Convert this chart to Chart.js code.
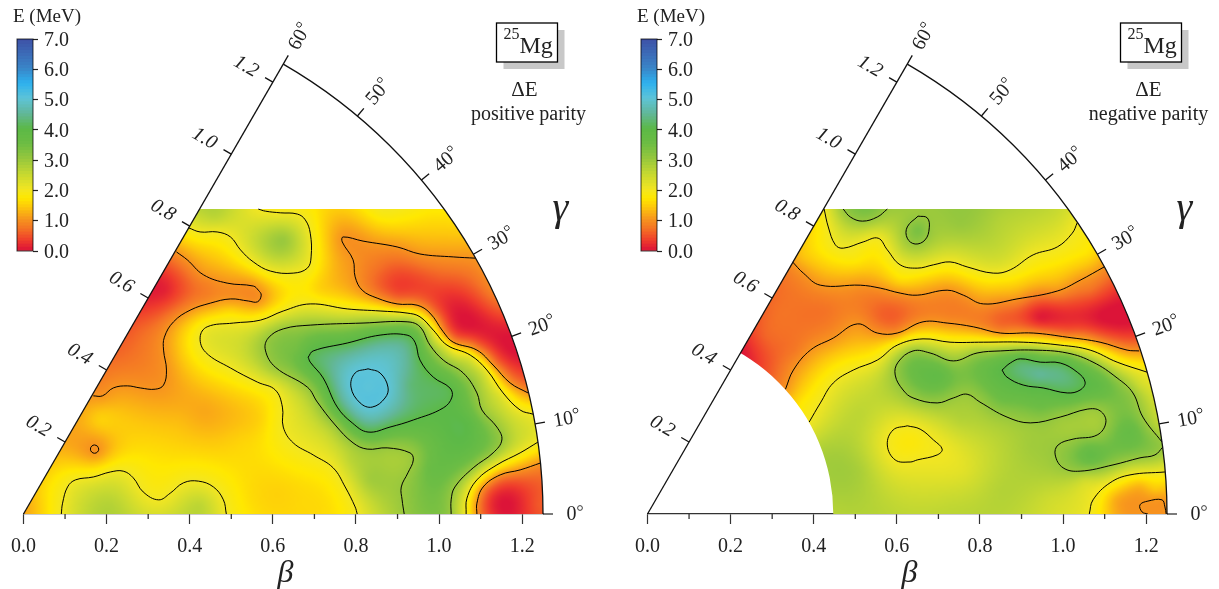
<!DOCTYPE html>
<html><head><meta charset="utf-8">
<script src="https://cdn.jsdelivr.net/npm/chart.js@4/dist/chart.umd.min.js"></script>
<style>
html,body{margin:0;padding:0;background:#fff;width:1219px;height:589px;overflow:hidden}
canvas{position:absolute}
</style></head><body>
<canvas id="posMain" width="610" height="589" style="left:0;top:0"></canvas>
<canvas id="negMain" width="595" height="589" style="left:624px;top:0"></canvas>
<canvas id="posBar" width="80" height="240" style="left:0;top:25px"></canvas>
<canvas id="negBar" width="80" height="240" style="left:624px;top:25px"></canvas>
<script>
// ---------- axes ----------
const betaTicks = [0,0.2,0.4,0.6,0.8,1.0,1.2];
const betaMinorTicks = [0.1,0.3,0.5,0.7,0.9,1.1];
const wallTicks = [0.2,0.4,0.6,0.8,1.0,1.2];
const gammaTicks = [0,10,20,30,40,50,60];
const energyTicks = [0,1,2,3,4,5,6,7];
const betaMax = 1.25, fieldTop = 0.733, holeNeg = 0.447;
// ---------- colour scale ----------
const colorStopValues = [0,0.3,0.7,1.0,1.4,1.7,2.0,2.5,3.0,3.5,4.0,4.5,5.0,5.5,6.0,7.0];
const colorStopHex = ['#dc1438','#ef3b2c','#f47325','#f7941e','#fdc70c','#ffe800','#f2e622','#c6d931','#98c83d','#6dbd44','#5cb947','#62b79a','#5ec4d8','#2eb2ef','#3a85c8','#3f4fa5'];
// ---------- positive parity contours (beta x, beta y) ----------
const posL2a=[[.565,.733],[.582,.728],[.618,.724],[.659,.721],[.678,.707],[.690,.675],[.692,.618],[.683,.591],[.649,.579],[.594,.584],[.553,.606],[.522,.635],[.498,.666],[.466,.678],[.425,.678],[.397,.688]];
const posL1a=[[.368,.630],[.394,.611],[.433,.575],[.490,.555],[.553,.548],[.565,.538],[.572,.526],[.563,.510],[.541,.512],[.498,.517],[.450,.507],[.401,.490],[.361,.462],[.339,.425],[.337,.394],[.344,.346],[.337,.310],[.317,.300],[.281,.303],[.250,.308],[.216,.303],[.190,.284],[.168,.284]];
const posL1c=[[.178,.163],[.171,.166],[.164,.163],[.161,.156],[.164,.149],[.171,.146],[.178,.149],[.181,.156],[.178,.163]];
const posL2b=[[.091,0],[.094,.026],[.106,.065],[.125,.082],[.168,.089],[.209,.101],[.240,.103],[.264,.087],[.288,.053],[.325,.034],[.353,.050],[.385,.075],[.421,.079],[.457,.065],[.481,.034],[.488,0]];
const posL2c=[[1.226,.240],[1.195,.250],[1.154,.291],[1.115,.346],[1.075,.382],[1.019,.406],[.986,.442],[.954,.474],[.923,.483],[.858,.488],[.779,.493],[.690,.505],[.625,.488],[.570,.466],[.505,.459],[.442,.450],[.425,.425],[.438,.389],[.498,.351],[.563,.317],[.606,.298],[.623,.257],[.625,.209],[.649,.171],[.697,.142],[.745,.111],[.774,.065],[.798,.017],[.803,0]];
const posL1b=[[1.087,.615],[1.034,.618],[.954,.625],[.899,.642],[.817,.656],[.769,.666],[.767,.654],[.793,.611],[.798,.570],[.815,.538],[.851,.519],[.899,.505],[.947,.502],[.978,.483],[1.010,.438],[1.034,.413],[1.091,.394],[1.130,.358],[1.171,.315],[1.214,.291]];
const posL3=[[1.029,0],[1.029,.034],[1.038,.065],[1.082,.111],[1.130,.147],[1.151,.178],[1.139,.209],[1.103,.250],[1.091,.291],[1.058,.339],[1.010,.370],[.978,.406],[.954,.450],[.923,.462],[.817,.459],[.690,.454],[.625,.445],[.589,.423],[.582,.394],[.606,.353],[.683,.305],[.707,.269],[.750,.214],[.793,.171],[.827,.156],[.875,.159],[.930,.147],[.938,.130],[.925,.099],[.909,.065],[.911,.034],[.916,0]];
const posL2d=[[1.238,.173],[1.195,.147],[1.139,.118],[1.091,.082],[1.067,.038],[1.065,0]];
const posL1d=[[1.245,.123],[1.195,.106],[1.147,.094],[1.106,.065],[1.091,.026],[1.091,0]];
const posL4=[[.685,.377],[.697,.392],[.779,.411],[.858,.430],[.923,.430],[.942,.413],[.954,.370],[.986,.329],[1.026,.303],[1.031,.281],[1.010,.255],[.938,.226],[.882,.209],[.829,.197],[.791,.219],[.755,.257],[.721,.327],[.690,.365],[.685,.377]];
const posL5=[[.829,.349],[.858,.339],[.877,.305],[.870,.279],[.839,.257],[.810,.267],[.788,.305],[.798,.339],[.829,.349]];
const posContours=[[1,posL1a],[1,posL1b],[1,posL1c],[1,posL1d],[2,posL2a],[2,posL2b],[2,posL2c],[2,posL2d],[3,posL3],[4,posL4],[5,posL5]];
// spot readings between the contours: beta x, beta y, energy
const posSpots=[[.625,.659,3.0],[.558,.659,2.5],[.462,.712,2.6],[.661,.635,2.5],[.341,.538,.1],[.281,.442,.6],[.245,.370,.7],[.438,.550,.8],[.738,.712,1.4],[.978,.726,1.7],[.858,.726,1.9],[1.055,.471,0],[.906,.538,.35],[.858,.587,.65],[1.147,.490,.5],[1.195,.346,.3],[1.063,.671,1.4],[.171,.156,.95],[.438,.245,1.15],[.185,.226,1.5],[.089,.106,1.6],[.024,.01,1.3],[.209,.022,2.7],[.425,.022,2.6],[.329,.178,1.5],[.618,.058,1.5],[.666,.022,1.55],[.546,.034,1.6],[.522,.178,1.5],[.377,.346,1.25],[.522,.406,2.4],[.666,.394,3.5],[.829,.303,5.0],[.930,.310,4.3],[.834,.082,2.9],[.786,.125,2.6],[.978,.106,3.6],[1.002,.178,3.8],[1.075,.226,3.85],[.978,.034,3.4],[1.171,.022,0],[1.238,.022,.5],[1.046,.01,2.5],[1.183,.202,2.5],[1.135,.538,.9],[1.002,.562,.5],[.714,.538,1.5],[.642,.538,1.7],[.498,.490,1.5],[.257,.178,1.5],[.041,.058,1.5],[.377,.226,1.3],[.570,.226,1.5]];
// ---------- negative parity contours ----------
const negL3a=[[.471,.733],[.488,.714],[.517,.704],[.553,.714],[.577,.733]];
const negL3b=[[.651,.716],[.673,.712],[.678,.688],[.668,.659],[.644,.649],[.625,.663],[.625,.690],[.651,.716]];
const negL2a=[[.425,.733],[.435,.690],[.452,.647],[.471,.639],[.519,.654],[.555,.663],[.577,.635],[.608,.599],[.649,.591],[.688,.599],[.728,.606],[.769,.594],[.832,.579],[.873,.587],[.928,.623],[.986,.642],[1.022,.675],[1.034,.700]];
const negL1a=[[.349,.606],[.375,.579],[.416,.550],[.512,.550],[.560,.543],[.608,.531],[.649,.526],[.721,.538],[.760,.526],[.808,.505],[.889,.517],[.986,.536],[1.041,.562],[1.099,.594]];
const negL1b=[[.332,.300],[.351,.346],[.392,.394],[.447,.423],[.505,.457],[.553,.435],[.601,.435],[.663,.462],[.721,.459],[.784,.450],[.849,.435],[.928,.435],[1.010,.425],[1.089,.413],[1.154,.394],[1.183,.392]];
const negL2b=[[.389,.221],[.416,.267],[.447,.315],[.495,.346],[.553,.370],[.601,.406],[.663,.421],[.728,.413],[.808,.413],[.904,.413],[.993,.406],[1.065,.394],[1.130,.365],[1.202,.341]];
const negL3c=[[1.238,.173],[1.192,.233],[1.168,.291],[1.130,.327],[1.072,.365],[1.010,.387],[.928,.394],[.849,.392],[.793,.387],[.736,.368],[.680,.387],[.639,.392],[.603,.365],[.596,.334],[.615,.298],[.639,.279],[.697,.267],[.736,.279],[.769,.288],[.800,.269],[.865,.233],[.921,.219],[.993,.233],[1.058,.252],[1.089,.248],[1.103,.221],[1.082,.190],[1.024,.180],[.988,.166],[.981,.142],[1.000,.111],[1.041,.103],[1.120,.118],[1.185,.135],[1.221,.142],[1.240,.161]];
const negL4=[[.853,.346],[.873,.363],[.897,.373],[.945,.365],[.993,.363],[1.034,.341],[1.053,.317],[1.041,.298],[1.010,.291],[.952,.303],[.904,.310],[.865,.329],[.853,.346]];
const negL2c=[[.625,.212],[.591,.202],[.577,.166],[.596,.130],[.632,.125],[.649,.130],[.697,.142],[.709,.156],[.688,.178],[.656,.204],[.625,.212]];
const negL2d=[[1.063,0],[1.072,.034],[1.113,.075],[1.161,.094],[1.245,.101]];
const negL1c=[[1.248,0],[1.245,.017],[1.238,.034],[1.204,.031],[1.185,.022],[1.190,.005],[1.204,0]];
const negContours=[[1,negL1a],[1,negL1b],[1,negL1c],[2,negL2a],[2,negL2b],[2,negL2c],[2,negL2d],[3,negL3a],[3,negL3b],[3,negL3c],[4,negL4]];
const negSpots=[[.536,.726,3.3],[.651,.683,3.4],[.849,.707,2.7],[.752,.695,3.0],[.993,.719,2.4],[.397,.647,1.6],[.368,.615,1.3],[.500,.615,1.8],[.608,.635,2.5],[.849,.606,2.3],[.320,.490,.7],[.284,.430,.6],[.236,.382,.05],[.356,.394,.75],[.560,.471,.6],[.945,.471,.05],[1.089,.471,0],[1.161,.430,.3],[1.065,.538,.7],[.849,.478,.6],[.716,.495,.8],[.428,.490,.7],[.849,.562,1.7],[.608,.562,1.6],[1.065,.623,1.6],[.452,.375,1.5],[.368,.262,1.7],[.404,.154,2.7],[.452,.010,2.7],[.512,.106,2.8],[.512,.238,2.6],[.637,.166,1.8],[.764,.106,2.2],[.728,.034,2.5],[.849,.058,2.7],[.969,.034,2.4],[1.053,.082,2.4],[1.125,.034,1.2],[1.185,.070,1.3],[1.221,.058,1.4],[.704,.334,3.8],[.945,.334,4.5],[1.161,.202,3.7],[1.053,.221,2.85],[.921,.166,2.9],[1.065,.142,3.8],[1.214,.118,2.5],[1.221,.214,2.7],[1.185,.310,2.4],[.849,.274,3.5],[.752,.226,2.7],[.945,.255,3.5],[.849,.370,3.7],[1.089,.310,3.8]];

// ---------- helpers ----------
const stopRGB = colorStopHex.map(h=>[1,3,5].map(i=>parseInt(h.substr(i,2),16)));
function colorAt(v){
  v=Math.max(0,Math.min(7,v));
  let i=0; while(i<colorStopValues.length-2 && v>colorStopValues[i+1]) i++;
  const t=(v-colorStopValues[i])/(colorStopValues[i+1]-colorStopValues[i]);
  return stopRGB[i].map((c,k)=>c+(stopRGB[i+1][k]-c)*t);
}
function fieldNodes(contours,spots){
  const n=[];
  contours.forEach(([lev,pts])=>pts.forEach(p=>n.push({x:p[0],y:p[1],v:lev})));
  spots.forEach(s=>n.push({x:s[0],y:s[1],v:s[2]}));
  return n;
}
function kernel(r2){return r2>0? r2*Math.log(r2):0;}
function solveSurface(nodes){
  const n=nodes.length, m=n+3, A=[];
  for(let i=0;i<m;i++){A.push(new Float64Array(m+1));}
  for(let i=0;i<n;i++){
    for(let j=0;j<n;j++){
      const dx=nodes[i].x-nodes[j].x, dy=nodes[i].y-nodes[j].y;
      A[i][j]=kernel(dx*dx+dy*dy);
    }
    A[i][i]+=3e-4;
    A[i][n]=1;A[i][n+1]=nodes[i].x;A[i][n+2]=nodes[i].y;
    A[n][i]=1;A[n+1][i]=nodes[i].x;A[n+2][i]=nodes[i].y;
    A[i][m]=nodes[i].v;
  }
  for(let c=0;c<m;c++){
    let p=c;for(let r=c+1;r<m;r++) if(Math.abs(A[r][c])>Math.abs(A[p][c])) p=r;
    const tmp=A[c];A[c]=A[p];A[p]=tmp;
    for(let r=c+1;r<m;r++){
      const f=A[r][c]/A[c][c]; if(f===0) continue;
      for(let k=c;k<=m;k++) A[r][k]-=f*A[c][k];
    }
  }
  const w=new Float64Array(m);
  for(let r=m-1;r>=0;r--){
    let s=A[r][m];for(let k=r+1;k<m;k++) s-=A[r][k]*w[k];
    w[r]=s/A[r][r];
  }
  return w;
}
const fieldPlugin={
  id:'field',
  beforeDatasetsDraw(chart,args,opts){
    const sx=chart.scales.x, sy=chart.scales.y, ctx=chart.ctx;
    const nodes=chart.data.datasets[0].data, n=nodes.length;
    if(!chart.$w) chart.$w=solveSurface(nodes);
    const w=chart.$w, step=2;
    const x0=sx.getPixelForValue(0), x1=sx.getPixelForValue(betaMax), y0=sy.getPixelForValue(0), yT=sy.getPixelForValue(fieldTop);
    const W=Math.ceil((x1-x0)/step)+2, H=Math.ceil((y0-yT)/step)+2;
    if(!chart.$img){
      const off=document.createElement('canvas');off.width=W;off.height=H;
      const oc=off.getContext('2d'), img=oc.createImageData(W,H);
      const X=new Float64Array(n),Y=new Float64Array(n);
      nodes.forEach((p,i)=>{X[i]=p.x;Y[i]=p.y;});
      for(let j=0;j<H;j++){
        const by=sy.getValueForPixel(yT+(j)*step);
        for(let i=0;i<W;i++){
          const bx=sx.getValueForPixel(x0+(i)*step);
          let v=w[n]+w[n+1]*bx+w[n+2]*by;
          for(let k=0;k<n;k++){const dx=bx-X[k],dy=by-Y[k];v+=w[k]*kernel(dx*dx+dy*dy);}
          const c=colorAt(v),o=(j*W+i)*4;
          img.data[o]=c[0];img.data[o+1]=c[1];img.data[o+2]=c[2];img.data[o+3]=255;
        }
      }
      oc.putImageData(img,0,0);chart.$img=off;
    }
    const R=x1-x0, wallX=sx.getPixelForValue(fieldTop/Math.tan(Math.PI/3)), arcX=sx.getPixelForValue(Math.sqrt(betaMax*betaMax-fieldTop*fieldTop));
    ctx.save();
    ctx.beginPath();ctx.moveTo(x0,y0);ctx.lineTo(wallX,yT);ctx.lineTo(arcX,yT);
    ctx.arc(x0,y0,R,-Math.asin(fieldTop/betaMax),0);ctx.closePath();ctx.clip();
    if(opts.hole){
      const r=sx.getPixelForValue(opts.hole)-x0;
      ctx.beginPath();ctx.rect(0,0,chart.width,chart.height);ctx.arc(x0,y0,r,0,Math.PI*2,true);ctx.clip('evenodd');
    }
    ctx.imageSmoothingEnabled=true;ctx.imageSmoothingQuality='high';
    ctx.drawImage(chart.$img,x0-step/2,yT-step/2,(W)*step,(H)*step);
    ctx.restore();
  },
  afterDatasetsDraw(chart,args,opts){
    const sx=chart.scales.x, sy=chart.scales.y, ctx=chart.ctx;
    const x0=sx.getPixelForValue(0), y0=sy.getPixelForValue(0), unit=sx.getPixelForValue(1)-x0, R=unit*betaMax;
    const rad=d=>d*Math.PI/180;
    ctx.save();
    ctx.strokeStyle='#111';ctx.fillStyle='#222';ctx.lineWidth=1.3;
    // wall and arc
    const tipX=x0+R*Math.cos(rad(60)), tipY=y0-R*Math.sin(rad(60));
    ctx.beginPath();ctx.moveTo(x0,y0);ctx.lineTo(tipX,tipY);ctx.stroke();
    ctx.beginPath();ctx.arc(x0,y0,R,-rad(60),0);ctx.stroke();
    // 0-degree axis extension
    ctx.strokeStyle='#333';
    ctx.beginPath();ctx.moveTo(x0+R,y0);ctx.lineTo(x0+R+10,y0);ctx.stroke();
    betaMinorTicks.forEach(b=>{const p=sx.getPixelForValue(b);ctx.beginPath();ctx.moveTo(p,y0);ctx.lineTo(p,y0+5);ctx.stroke();});
    ctx.strokeStyle='#111';
    // gamma ticks and labels
    ctx.textAlign='center';ctx.textBaseline='middle';
    gammaTicks.forEach(g=>{
      const c=Math.cos(rad(g)),s=Math.sin(rad(g));
      if(g>0){ctx.beginPath();ctx.moveTo(x0+R*c,y0-R*s);ctx.lineTo(x0+(R+10)*c,y0-(R+10)*s);ctx.stroke();}
      const rl=unit*1.327;
      ctx.save();ctx.translate(x0+rl*c,y0-rl*s);ctx.rotate(-rad(g));
      ctx.font='20px "Liberation Serif"';
      const w1=ctx.measureText(String(g)).width, w2=7;
      ctx.textAlign='left';ctx.fillText(String(g),-(w1+w2)/2,1);
      ctx.beginPath();ctx.lineWidth=0.8;ctx.arc((w1-w2)/2+3.5,-6,2.4,0,Math.PI*2);ctx.stroke();ctx.lineWidth=1.3;
      ctx.restore();
    });
    // beta ticks along the 60-degree wall
    wallTicks.forEach(b=>{
      const px=x0+unit*b*Math.cos(rad(60)), py=y0-unit*b*Math.sin(rad(60));
      ctx.beginPath();ctx.moveTo(px,py);ctx.lineTo(px-9*Math.cos(rad(30)),py-9*Math.sin(rad(30)));ctx.stroke();
      ctx.save();ctx.translate(px-31*Math.cos(rad(30)),py-31*Math.sin(rad(30)));ctx.rotate(rad(30));
      ctx.font='italic 20px "Liberation Serif"';ctx.textAlign='center';ctx.fillText(b.toFixed(1),0,0);
      ctx.restore();
    });
    // axis symbols
    ctx.font='italic 32px "Liberation Serif"';
    ctx.fillText('β',x0+262,y0+60);
    ctx.font='italic 40px "Liberation Serif"';
    ctx.fillText('γ',x0+537,y0-305);
    // colour bar title
    ctx.font='19px "Liberation Serif"';ctx.textAlign='center';
    ctx.fillText('E (MeV)',47,17);
    // nucleus box
    const bx=x0+473, by=23;
    ctx.fillStyle='#c8c8c8';ctx.fillRect(bx+7,by+7,61,39);
    ctx.fillStyle='#fff';ctx.fillRect(bx,by,61,39);
    ctx.strokeStyle='#000';ctx.lineWidth=1.3;ctx.strokeRect(bx,by,61,39);
    ctx.fillStyle='#222';
    ctx.textAlign='left';
    ctx.font='16px "Liberation Serif"';ctx.fillText('25',bx+7,by+12);
    ctx.font='24px "Liberation Serif"';ctx.fillText('Mg',bx+23,by+24);
    ctx.textAlign='center';
    ctx.font='21px "Liberation Serif"';ctx.fillText('ΔE',x0+501,90);
    ctx.font='20px "Liberation Serif"';ctx.fillText(opts.parity,x0+opts.parityX,115);
    ctx.restore();
  }
};
function makeMain(id,contours,spots,parity,parityX,hole,canvasW){
  const datasets=[{label:'field',data:fieldNodes(contours,spots),pointRadius:0,showLine:false}];
  contours.forEach(([lev,pts])=>datasets.push({
    label:'E = '+lev,data:pts.map(p=>({x:p[0],y:p[1]})),showLine:true,
    borderColor:'#000',borderWidth:1,pointRadius:0,tension:0.4,fill:false
  }));
  return new Chart(document.getElementById(id),{
    type:'scatter',data:{datasets},plugins:[fieldPlugin],
    options:{
      responsive:false,animation:false,devicePixelRatio:1,
      layout:{padding:{left:23,right:canvasW-543,top:64,bottom:0}},
      plugins:{legend:{display:false},tooltip:{enabled:false},field:{parity,parityX,hole}},
      scales:{
        x:{type:'linear',min:0,max:betaMax,
          afterBuildTicks(s){s.ticks=betaTicks.map(v=>({value:v}));},
          afterFit(s){s.height=75;},
          border:{display:true,color:'#333',width:1.3},
          grid:{drawOnChartArea:false,drawTicks:true,tickLength:10,tickColor:'#333',tickWidth:1.2},
          ticks:{color:'#222',padding:11,maxRotation:0,autoSkip:false,font:{family:'"Liberation Serif"',size:20},callback:v=>v.toFixed(1)}},
        y:{type:'linear',min:0,max:450/416,display:false}
      }
    }
  });
}
function makeBar(id){
  const lo=[];for(let i=0;i<70;i++) lo.push(i/10);
  const datasets=lo.map(a=>{const c=colorAt(a+0.05);return {data:[[a,Math.min(7,a+0.13)]],backgroundColor:`rgb(${c[0]|0},${c[1]|0},${c[2]|0})`,borderWidth:0,barPercentage:1,categoryPercentage:1,grouped:false};});
  return new Chart(document.getElementById(id),{
    type:'bar',data:{labels:['E'],datasets},
    plugins:[{id:'frame',afterDatasetsDraw(ch){
      const a=ch.chartArea,c=ch.ctx,s=ch.scales.y;
      c.save();c.strokeStyle='rgba(0,0,0,.75)';c.lineWidth=1;c.strokeRect(a.left,a.top,a.right-a.left,a.bottom-a.top);
      c.fillStyle='#222';c.font='20px "Liberation Serif"';c.textAlign='left';c.textBaseline='middle';
      energyTicks.forEach(v=>c.fillText(v.toFixed(1),a.right+11,s.getPixelForValue(v)+1.5));
      c.restore();
    }}],
    options:{
      responsive:false,animation:false,devicePixelRatio:1,
      layout:{padding:{left:17,right:0,top:14,bottom:14}},
      plugins:{legend:{display:false},tooltip:{enabled:false}},
      scales:{
        x:{display:false},
        y:{position:'right',min:0,max:7,
          afterBuildTicks(s){s.ticks=energyTicks.map(v=>({value:v}));},
          afterFit(s){s.width=47;s.paddingTop=0;s.paddingBottom=0;},
          border:{display:false},
          grid:{drawOnChartArea:false,drawTicks:true,tickLength:5,tickColor:'#222',tickWidth:1.2},
          ticks:{display:false}}
      }
    }
  });
}
makeMain('posMain',posContours,posSpots,'positive parity',505,0,610);
makeMain('negMain',negContours,negSpots,'negative parity',501,holeNeg,595);
makeBar('posBar');makeBar('negBar');
</script>
</body></html>
